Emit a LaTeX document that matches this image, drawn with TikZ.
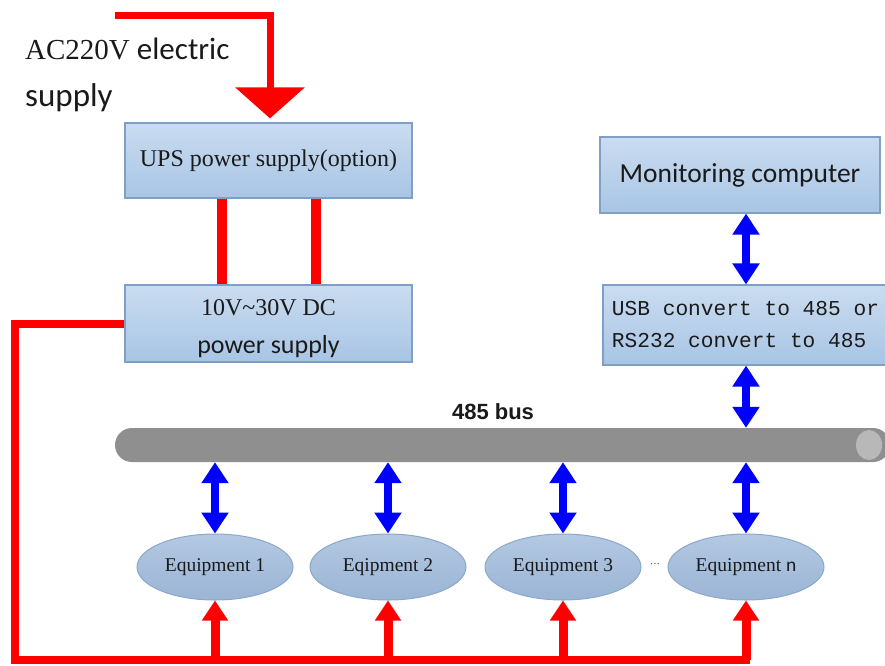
\documentclass[tikz,border=0pt]{standalone}
\usepackage{fontspec}
\setmainfont{Liberation Serif}
\setmonofont{Liberation Mono}
\newfontfamily\calib{Carlito}
\newfontfamily\arialf{Liberation Sans}
\usetikzlibrary{arrows.meta,shapes.geometric,calc}

\definecolor{boxtop}{HTML}{CADCF0}
\definecolor{boxbot}{HTML}{A8C5E5}
\definecolor{boxline}{HTML}{7F9FC4}
\definecolor{eqtop}{HTML}{B3C8E2}
\definecolor{eqbot}{HTML}{9BB5D5}
\definecolor{eqline}{HTML}{8CA8C9}
\definecolor{busgray}{HTML}{8F8F8F}
\definecolor{busend}{HTML}{B8B8B8}
\definecolor{wirered}{HTML}{FF0000}
\definecolor{linkblue}{HTML}{0000FF}
\definecolor{txt}{HTML}{1A1A1A}

\tikzset{
  panel/.style={rectangle, draw=boxline, line width=1.2pt,
    top color=boxtop, bottom color=boxbot, text=txt, inner sep=0pt},
  equip/.style={ellipse, draw=eqline, line width=1pt,
    top color=eqtop, bottom color=eqbot, text=txt,
    minimum width=156pt, minimum height=66pt, inner sep=0pt,
    font=\fontsize{19.5}{21}\selectfont},
  busbar/.style={rectangle, rounded corners=17pt, fill=busgray,
    minimum height=34pt, inner sep=0pt},
  linkarrow/.style={draw=linkblue, line width=8pt,
    {Triangle[width=26pt,length=21pt]}-{Triangle[width=26pt,length=21pt]}},
  feedarrow/.style={draw=wirered, line width=9pt,
    -{Triangle[width=25pt,length=20pt]}},
  wire/.style={draw=wirered, line width=8pt, line join=miter},
  pairwire/.style={draw=wirered, line width=10pt},
  mainsfeed/.style={draw=wirered, line width=7pt, line join=miter,
    -{Triangle[width=68pt,length=31pt]}}
}

\begin{document}
\begin{tikzpicture}[x=1pt,y=-1pt]
\useasboundingbox (0,0) rectangle (885,665);

% mains input label
\node[anchor=base west, inner sep=0pt, text=txt] (mainslabel) at (25,59)
  {\fontsize{29}{30}\selectfont AC220V\calib\fontsize{31}{30}\selectfont{} electric};
\node[anchor=base west, inner sep=0pt, text=txt] (mainslabel2) at (25,106)
  {\calib\fontsize{33}{30}\selectfont supply};

% power boxes
\node[panel, minimum width=287pt, minimum height=75pt] (ups) at (268.5,160.5)
  {\fontsize{24}{26}\selectfont UPS power supply(option)};
\node[panel, minimum width=287pt, minimum height=77pt, align=center,
      font=\fontsize{24}{34}\selectfont] (dc) at (268.5,323.5)
  {\rule{0pt}{26pt}10V\textasciitilde 30V DC\\[4pt]
   {\calib\fontsize{26}{30}\selectfont power supply}};

% communication boxes
\node[panel, minimum width=280pt, minimum height=76pt] (mon) at (740,175)
  {\calib\fontsize{27.5}{28}\selectfont Monitoring computer};
\node[panel, minimum width=285pt, minimum height=80pt, align=left,
      font=\ttfamily\fontsize{21.2}{32}\selectfont] (conv) at (745.5,325)
  {USB convert to 485 or\\RS232 convert to 485};

% 485 bus
\node[busbar, minimum width=775pt] (bus) at (502.5,445) {};
\fill[busend] (869,445) ellipse (13pt and 15pt);
\node[text=txt] (buslabel) at (493,412)
  {\arialf\bfseries\fontsize{22}{24}\selectfont 485 bus};

% equipment
\node[equip] (e1) at (215,567) {Equipment 1};
\node[equip] (e2) at (388,567) {Eqipment 2};
\node[equip] (e3) at (563,567) {Equipment 3};
\node[equip] (e4) at (746,567) {Equipment {\calib n}};
\node[text=txt, inner sep=0pt] (dots) at (655,566)
  {\fontsize{10}{10}\selectfont\textperiodcentered\textperiodcentered\textperiodcentered};

% mains feed into the UPS
\coordinate (acstart) at (115,15);
\coordinate (acturn) at (270,15);
\draw[mainsfeed, shorten >=4pt] (acstart) -- (acturn) -- (ups.north -| acturn);

% UPS to DC supply
\draw[pairwire] ([xshift=-46.5pt]ups.south) -- ([xshift=-46.5pt]dc.north);
\draw[pairwire] ([xshift=47.5pt]ups.south) -- ([xshift=47.5pt]dc.north);

% DC distribution loop
\coordinate (base) at (15,660);
\draw[wire] (dc.west) -- (dc.west -| base) -- (base) -- ([xshift=4pt]base -| e4);
\foreach \e in {e1,e2,e3,e4}
  \draw[feedarrow] (base -| \e) -- (\e.south);

% data links
\draw[linkarrow] (mon.south -| e4) -- (conv.north -| e4);
\draw[linkarrow] (conv.south -| e4) -- (bus.north -| e4);
\foreach \e in {e1,e2,e3,e4}
  \draw[linkarrow] (bus.south -| \e) -- (\e.north);
\end{tikzpicture}
\end{document}
